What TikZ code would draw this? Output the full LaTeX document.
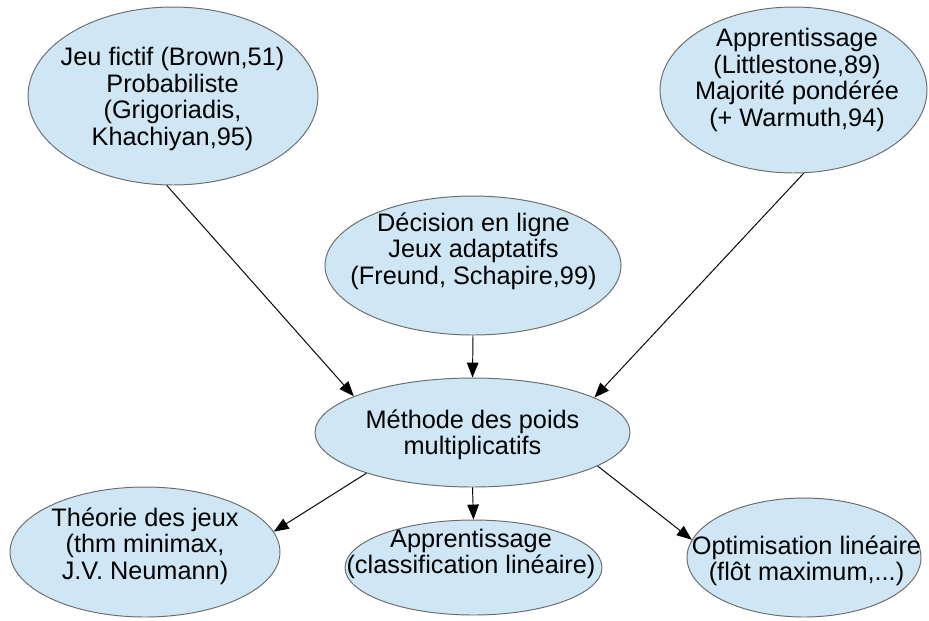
\documentclass[tikz,border=0pt]{standalone}
\usepackage{fontspec}
\setmainfont{Liberation Sans}
\usetikzlibrary{shapes.geometric,arrows.meta}
\definecolor{bleupale}{HTML}{CFE7F5}
\tikzset{
	bulle/.style={ellipse, draw=gray!85!black, fill=bleupale, line width=0.55pt, inner sep=0pt},
	texte/.style={align=center, font=\fontsize{14.4}{15.1}\selectfont},
	fleche/.style={-{Triangle[length=8.5pt,width=6.6pt]}, line width=0.55pt}
}

\begin{document}
\begin{tikzpicture}[x=0.02cm,y=-0.02cm]
		\useasboundingbox (0,0) rectangle (929,620);
		\node[bulle, minimum width=5.8cm, minimum height=3.56cm] (jeu) at (173,96) {};
		\node[texte] (tjeu) at (172.5,99) {Jeu fictif (Brown,51)\\Probabiliste\\(Grigoriadis,\\Khachiyan,95)};
		\node[bulle, minimum width=5.34cm, minimum height=3.32cm] (appr) at (793.5,90) {};
		\node[texte] (tappr) at (797,80) {Apprentissage\\(Littlestone,89)\\Majorité pondérée\\(+ Warmuth,94)};
		\node[bulle, minimum width=5.92cm, minimum height=2.78cm] (dec) at (473,265.5) {};
		\node[texte] (tdec) at (473.5,251) {Décision en ligne\\Jeux adaptatifs\\(Freund, Schapire,99)};
		\node[bulle, minimum width=6.3cm, minimum height=2.18cm] (mwu) at (472.5,432.5) {};
		\node[texte] (tmwu) at (472.5,435) {Méthode des poids\\multiplicatifs};
		\node[bulle, minimum width=5.4cm, minimum height=2.6cm] (theo) at (145,552) {};
		\node[texte] (ttheo) at (145,546) {Théorie des jeux\\(thm minimax,\\J.V. Neumann)};
		\node[bulle, minimum width=5.14cm, minimum height=1.9cm] (app) at (473.5,567.5) {};
		\node[texte] (tapp) at (471,554) {Apprentissage\\(classification linéaire)};
		\node[bulle, minimum width=4.68cm, minimum height=2.38cm] (optim) at (804,557.5) {};
		\node[texte] (toptim) at (806.5,561) {Optimisation linéaire\\(flôt maximum,...)};

		\draw[fleche] (jeu.266) -- (mwu.163);
		\draw[fleche] (appr.277) -- (mwu.16);
		\draw[fleche] (dec.south) -- (mwu.north);
		\draw[fleche] (mwu.201) -- (theo.9);
		\draw[fleche] (mwu.south) -- (app.north);
		\draw[fleche] (mwu.345) -- (optim.171);
	\end{tikzpicture}
\end{document}
